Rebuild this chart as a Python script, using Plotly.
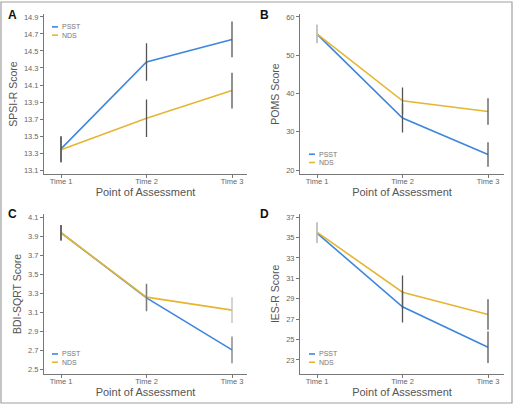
import plotly.graph_objects as go

times = ["Time 1", "Time 2", "Time 3"]
series_names = ["PSST", "NDS"]

# Panel A: SPSI-R
a_psst = [13.35, 14.37, 14.635]
a_psst_err = [0.15, 0.22, 0.21]
a_nds = [13.34, 13.71, 14.035]
a_nds_err = [0.15, 0.22, 0.21]
a_ticks = [13.1, 13.3, 13.5, 13.7, 13.9, 14.1, 14.3, 14.5, 14.7, 14.9]

# Panel B: POMS
b_psst = [55.5, 33.6, 24.1]
b_psst_err = [2.4, 3.8, 3.2]
b_nds = [55.6, 38.1, 35.3]
b_nds_err = [2.4, 3.5, 3.45]
b_ticks = [20, 30, 40, 50, 60]

# Panel C: BDI-SQRT
c_psst = [3.937, 3.255, 2.71]
c_psst_err = [0.08, 0.14, 0.14]
c_nds = [3.937, 3.262, 3.126]
c_nds_err = [0.08, 0.14, 0.135]
c_ticks = [2.5, 2.7, 2.9, 3.1, 3.3, 3.5, 3.7, 3.9, 4.1]

# Panel D: IES-R
d_psst = [35.44, 28.21, 24.24]
d_psst_err = [1.0, 1.55, 1.55]
d_nds = [35.53, 29.64, 27.46]
d_nds_err = [1.0, 1.63, 1.5]
d_ticks = [23, 25, 27, 29, 31, 33, 35, 37]

BLUE = "#3f87dc"
GOLD = "#e4b634"
DARK = "#555555"
MID = "#7a7a7a"
LIGHT = "#bdbdbd"
FONT = "Liberation Sans"

px_w, px_h = 514, 408

def fx(p):
    return p / px_w

def fy(p):
    return 1 - p / px_h

panels = [
    dict(letter="A", title="SPSI-R Score", psst=a_psst, pe=a_psst_err, nds=a_nds, ne=a_nds_err,
         ticks=a_ticks, fmt=".1f", yr=[13.053, 14.935], x0=44, x1=247, y0=13, y1=174,
         pcol=[DARK, DARK, DARK], ncol=[DARK, DARK, DARK], legend_y=26, legend_x=52,
         lx=6, ly=5),
    dict(letter="B", title="POMS Score", psst=b_psst, pe=b_psst_err, nds=b_nds, ne=b_nds_err,
         ticks=b_ticks, fmt="d", yr=[18.96, 60.78], x0=300, x1=504, y0=13, y1=174,
         pcol=[LIGHT, DARK, DARK], ncol=[LIGHT, DARK, DARK], legend_y=154, legend_x=309,
         lx=258, ly=5),
    dict(letter="C", title="BDI-SQRT Score", psst=c_psst, pe=c_psst_err, nds=c_nds, ne=c_nds_err,
         ticks=c_ticks, fmt=".1f", yr=[2.458, 4.134], x0=44, x1=247, y0=214, y1=374.7,
         pcol=[DARK, MID, MID], ncol=[DARK, MID, LIGHT], legend_y=354.7, legend_x=52,
         lx=6, ly=205),
    dict(letter="D", title="IES-R Score", psst=d_psst, pe=d_psst_err, nds=d_nds, ne=d_nds_err,
         ticks=d_ticks, fmt="d", yr=[21.63, 37.32], x0=300, x1=504, y0=214, y1=374.7,
         pcol=[LIGHT, DARK, DARK], ncol=[LIGHT, DARK, DARK], legend_y=354.7, legend_x=309,
         lx=258, ly=205),
]

fig = go.Figure()
xpos = list(range(len(times)))
annotations = []
shapes = []

for i, p in enumerate(panels):
    n = "" if i == 0 else str(i + 1)
    xa, ya = "x" + n, "y" + n
    for vals, col in [(p["psst"], BLUE), (p["nds"], GOLD)]:
        fig.add_trace(go.Scatter(x=xpos, y=vals, mode="lines", line=dict(color=col, width=1.6),
                                 xaxis=xa, yaxis=ya, showlegend=False, hoverinfo="skip"))
    for vals, errs, cols in [(p["psst"], p["pe"], p["pcol"]), (p["nds"], p["ne"], p["ncol"])]:
        for k, (v, e) in enumerate(zip(vals, errs)):
            fig.add_trace(go.Scatter(x=[xpos[k], xpos[k]], y=[v - e, v + e], mode="lines",
                                     line=dict(color=cols[k], width=1.3),
                                     xaxis=xa, yaxis=ya, showlegend=False, hoverinfo="skip"))
    t1 = p["x0"] + 17
    t3 = p["x0"] + 188
    u = (t3 - t1) / 2
    xrange = [(p["x0"] - t1) / u, (p["x1"] - t1) / u]
    fig.update_layout(**{
        ("xaxis" + n): dict(domain=[fx(p["x0"]), fx(p["x1"])], range=xrange, anchor=ya,
                            tickvals=xpos, ticktext=times, showline=True, linecolor="#777",
                            linewidth=1, ticks="outside", ticklen=3, tickcolor="#777",
                            ticklabelstandoff=-3,
                            showgrid=False, zeroline=False,
                            tickfont=dict(family=FONT, size=7.5, color="#666"),
                            title=dict(text="Point of Assessment", standoff=3,
                                       font=dict(family=FONT, size=11, color="#555"))),
        ("yaxis" + n): dict(domain=[fy(p["y1"]), fy(p["y0"])], range=p["yr"], anchor=xa,
                            tickvals=p["ticks"], tickformat=p["fmt"], showline=True,
                            linecolor="#777", linewidth=1, ticks="outside", ticklen=3,
                            tickcolor="#777", showgrid=False, zeroline=False,
                            tickfont=dict(family=FONT, size=7.5, color="#666"),
                            title=dict(text=p["title"], standoff=4,
                                       font=dict(family=FONT, size=10.5, color="#555"))),
    })
    annotations.append(dict(text="<b>%s</b>" % p["letter"], xref="paper", yref="paper",
                            x=fx(p["lx"]), y=fy(p["ly"]), xanchor="left", yanchor="top",
                            showarrow=False, font=dict(family=FONT, size=12, color="#111")))
    for j, (name, col) in enumerate(zip(series_names, [BLUE, GOLD])):
        yy = p["legend_y"] + j * 8.3
        shapes.append(dict(type="line", xref="paper", yref="paper",
                           x0=fx(p["legend_x"]), x1=fx(p["legend_x"] + 6),
                           y0=fy(yy), y1=fy(yy), line=dict(color=col, width=1.6)))
        annotations.append(dict(text=name, xref="paper", yref="paper",
                                x=fx(p["legend_x"] + 8), y=fy(yy), xanchor="left", yanchor="middle",
                                showarrow=False, font=dict(family=FONT, size=7, color="#777")))

shapes.append(dict(type="rect", xref="paper", yref="paper", x0=fx(1), x1=fx(512), y0=fy(404), y1=fy(1),
                   line=dict(color="#a0a0a0", width=1.2)))

fig.update_layout(width=px_w, height=px_h, margin=dict(l=0, r=0, t=0, b=0),
                  paper_bgcolor="white", plot_bgcolor="white",
                  annotations=annotations, shapes=shapes, showlegend=False)

fig.write_html("out.html", config={"displayModeBar": False},
               post_script="document.body.style.margin='0';document.body.style.padding='0';document.body.style.overflow='hidden';")
